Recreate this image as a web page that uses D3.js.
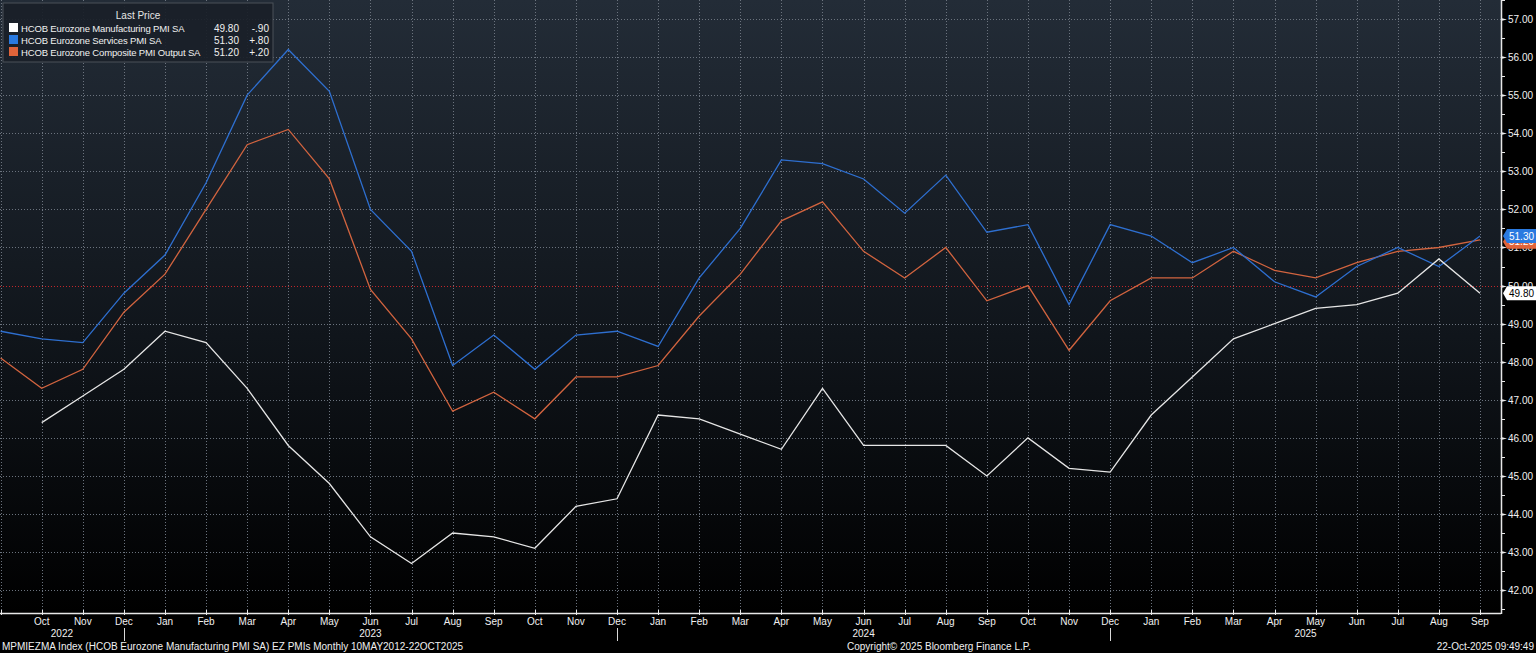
<!DOCTYPE html>
<html lang="en">
<head>
<meta charset="UTF-8">
<script src="https://cdnjs.cloudflare.com/ajax/libs/d3/7.8.5/d3.min.js"></script>
<style>
  html, body { margin: 0; padding: 0; background: #000; }
  svg { display: block; font-family: "Liberation Sans", "DejaVu Sans", sans-serif; }
</style>
</head>
<body>
<svg id="chart" width="1536" height="653"></svg>
<script>
// monthly observations, Sep 2022 .. Sep 2025
const months = [
  '2022-09', '2022-10', '2022-11', '2022-12',
  '2023-01', '2023-02', '2023-03', '2023-04', '2023-05', '2023-06',
  '2023-07', '2023-08', '2023-09', '2023-10', '2023-11', '2023-12',
  '2024-01', '2024-02', '2024-03', '2024-04', '2024-05', '2024-06',
  '2024-07', '2024-08', '2024-09', '2024-10', '2024-11', '2024-12',
  '2025-01', '2025-02', '2025-03', '2025-04', '2025-05', '2025-06',
  '2025-07', '2025-08', '2025-09'
];
// manufacturing has no print for the first month on this chart
const manufacturing = [
  null, 46.4, 47.1, 47.8,
  48.8, 48.5, 47.3, 45.8, 44.8, 43.4,
  42.7, 43.5, 43.4, 43.1, 44.2, 44.4,
  46.6, 46.5, 46.1, 45.7, 47.3, 45.8,
  45.8, 45.8, 45.0, 46.0, 45.2, 45.1,
  46.6, 47.6, 48.6, 49.0, 49.4, 49.5,
  49.8, 50.7, 49.8
];
const services = [
  48.8, 48.6, 48.5, 49.8,
  50.8, 52.7, 55.0, 56.2, 55.1, 52.0,
  50.9, 47.9, 48.7, 47.8, 48.7, 48.8,
  48.4, 50.2, 51.5, 53.3, 53.2, 52.8,
  51.9, 52.9, 51.4, 51.6, 49.5, 51.6,
  51.3, 50.6, 51.0, 50.1, 49.7, 50.5,
  51.0, 50.5, 51.3
];
const composite = [
  48.1, 47.3, 47.8, 49.3,
  50.3, 52.0, 53.7, 54.1, 52.8, 49.9,
  48.6, 46.7, 47.2, 46.5, 47.6, 47.6,
  47.9, 49.2, 50.3, 51.7, 52.2, 50.9,
  50.2, 51.0, 49.6, 50.0, 48.3, 49.6,
  50.2, 50.2, 50.9, 50.4, 50.2, 50.6,
  50.9, 51.0, 51.2
];

const seriesNames = [
  'HCOB Eurozone Manufacturing PMI SA',
  'HCOB Eurozone Services PMI SA',
  'HCOB Eurozone Composite PMI Output SA'
];
const lastPrices = ['49.80', '51.30', '51.20'];
const netChanges = ['-.90', '+.80', '+.20'];
const yTicks = d3.range(42, 58, 1);
const refLevel = 50;

const footLeft = 'MPMIEZMA Index (HCOB Eurozone Manufacturing PMI SA) EZ PMIs Monthly 10MAY2012-22OCT2025';
const footMid = 'Copyright\u00A9 2025 Bloomberg Finance L.P.';
const footRight = '22-Oct-2025 09:49:49';

const W = 1536, H = 653;
const plotRight = 1501, plotBottom = 613;
const FS = 10;

const svg = d3.select('#chart');

// background gradient
const defs = svg.append('defs');
const grad = defs.append('linearGradient')
  .attr('id', 'bg').attr('x1', 0).attr('y1', 0).attr('x2', 0).attr('y2', 1);
grad.append('stop').attr('offset', '0%').attr('stop-color', '#232c37');
grad.append('stop').attr('offset', '55%').attr('stop-color', '#10151b');
grad.append('stop').attr('offset', '100%').attr('stop-color', '#000000');

svg.append('rect').attr('width', W).attr('height', H).attr('fill', '#000');
svg.append('rect').attr('width', plotRight).attr('height', plotBottom).attr('fill', 'url(#bg)');

const x = d3.scalePoint().domain(months).range([0.6, 1480]);
const y = d3.scaleLinear().domain([41.4, 57.5]).range([plotBottom, 0]);
const parse = d3.timeParse('%Y-%m');
const fmtMon = d3.timeFormat('%b');

// grid
const grid = svg.append('g')
  .attr('stroke', '#6b737e').attr('stroke-width', 1).attr('stroke-dasharray', '1,2');
grid.selectAll('line.h')
  .data(yTicks.filter(d => d !== refLevel)).enter()
  .append('line')
  .attr('x1', 0).attr('x2', plotRight)
  .attr('y1', d => Math.round(y(d)) + 0.5).attr('y2', d => Math.round(y(d)) + 0.5);
grid.selectAll('line.v')
  .data(months).enter()
  .append('line')
  .attr('x1', d => Math.round(x(d)) + 0.5).attr('x2', d => Math.round(x(d)) + 0.5)
  .attr('y1', 0).attr('y2', plotBottom);

svg.append('line')
  .attr('x1', 0).attr('x2', plotRight)
  .attr('y1', Math.round(y(refLevel)) + 0.5).attr('y2', Math.round(y(refLevel)) + 0.5)
  .attr('stroke', '#c0262a').attr('stroke-width', 1).attr('stroke-dasharray', '1,2');

// lines
const line = d3.line()
  .defined(d => d.v != null)
  .x(d => x(d.m))
  .y(d => y(d.v));
const seriesData = [
  { values: composite, color: '#d2643f' },
  { values: services, color: '#2e6fd0' },
  { values: manufacturing, color: '#e6e6e6' }
];
svg.append('g').selectAll('path')
  .data(seriesData).enter()
  .append('path')
  .attr('fill', 'none')
  .attr('stroke', d => d.color)
  .attr('stroke-width', 1.3)
  .attr('d', d => line(d.values.map((v, i) => ({ m: months[i], v }))));

// x axis
svg.append('line')
  .attr('x1', 0).attr('x2', plotRight)
  .attr('y1', plotBottom + 0.5).attr('y2', plotBottom + 0.5)
  .attr('stroke', '#e8e8e8').attr('stroke-width', 1.5);
svg.append('g').selectAll('line')
  .data(months).enter()
  .append('line')
  .attr('x1', d => Math.round(x(d)) + 0.5).attr('x2', d => Math.round(x(d)) + 0.5)
  .attr('y1', plotBottom - 3).attr('y2', plotBottom + 2)
  .attr('stroke', '#e8e8e8');
svg.append('g').selectAll('text')
  .data(months.slice(1)).enter()
  .append('text')
  .attr('x', d => x(d)).attr('y', 625)
  .attr('text-anchor', 'middle')
  .attr('fill', '#f0f0f0').attr('font-size', FS)
  .text(d => fmtMon(parse(d)));

// year separators at December, year labels centred between them
const decs = months.filter(m => m.endsWith('-12'));
svg.append('g').selectAll('line')
  .data(decs).enter()
  .append('line')
  .attr('x1', d => Math.round(x(d)) + 0.5).attr('x2', d => Math.round(x(d)) + 0.5)
  .attr('y1', 628).attr('y2', 641)
  .attr('stroke', '#d8d8d8');
const bounds = [0, ...decs.map(d => x(d)), plotRight];
const years = ['2022', '2023', '2024', '2025'];
svg.append('g').selectAll('text')
  .data(years).enter()
  .append('text')
  .attr('x', (d, i) => (bounds[i] + bounds[i + 1]) / 2).attr('y', 637)
  .attr('text-anchor', 'middle')
  .attr('fill', '#f0f0f0').attr('font-size', FS)
  .text(d => d);

// right axis
svg.append('line')
  .attr('x1', plotRight + 0.5).attr('x2', plotRight + 0.5)
  .attr('y1', 0).attr('y2', plotBottom + 1)
  .attr('stroke', '#e8e8e8').attr('stroke-width', 1.5);
svg.append('g').selectAll('line')
  .data(d3.range(41.5, 57.6, 0.5).filter(v => v % 1 !== 0)).enter()
  .append('line')
  .attr('x1', plotRight).attr('x2', plotRight + 4)
  .attr('y1', d => Math.round(y(d)) + 0.5).attr('y2', d => Math.round(y(d)) + 0.5)
  .attr('stroke', '#e8e8e8');
const yAx = svg.append('g').selectAll('g')
  .data(yTicks).enter()
  .append('g')
  .attr('transform', d => `translate(${plotRight},${Math.round(y(d)) + 0.5})`);
yAx.append('path')
  .attr('d', 'M0,-1.5L6,0L0,1.5Z')
  .attr('fill', '#e8e8e8');
yAx.append('text')
  .attr('x', 7).attr('dy', '0.35em')
  .attr('fill', '#f0f0f0').attr('font-size', FS)
  .text(d => d3.format('.2f')(d));

// last value tags
const tags = [
  { v: +lastPrices[2], bg: '#e0643a', fg: '#ffffff', dy: 2 },
  { v: +lastPrices[1], bg: '#2a7ae0', fg: '#ffffff', dy: 0 },
  { v: +lastPrices[0], bg: '#ffffff', fg: '#000000', dy: 0 }
];
const tagG = svg.append('g').selectAll('g')
  .data(tags).enter()
  .append('g')
  .attr('transform', d => `translate(${plotRight + 2},${y(d.v) + d.dy})`);
tagG.append('path')
  .attr('d', 'M0,0L4,-7H33V7H4Z')
  .attr('fill', d => d.bg);
tagG.append('text')
  .attr('x', 6).attr('dy', '0.36em')
  .attr('fill', d => d.fg).attr('font-size', FS)
  .text(d => d3.format('.2f')(d.v));

// legend
const leg = svg.append('g').attr('transform', 'translate(3,3)');
leg.append('rect')
  .attr('width', 270).attr('height', 59)
  .attr('fill', '#1a2028').attr('fill-opacity', 0.92)
  .attr('stroke', '#4a5058');
leg.append('text')
  .attr('x', 135).attr('y', 16)
  .attr('text-anchor', 'middle')
  .attr('fill', '#e6e6e6').attr('font-size', FS)
  .text('Last Price');
const legColors = ['#ffffff', '#2a7ae0', '#e0643a'];
const rows = leg.selectAll('g.row')
  .data(seriesNames).enter()
  .append('g')
  .attr('transform', (d, i) => `translate(0,${20 + i * 12})`);
rows.append('rect')
  .attr('x', 6).attr('y', 0).attr('width', 9).attr('height', 9)
  .attr('fill', (d, i) => legColors[i]);
rows.append('text')
  .attr('x', 18).attr('y', 8.5)
  .attr('fill', '#f0f0f0').attr('font-size', 9.5)
  .attr('letter-spacing', -0.15)
  .text(d => d);
rows.append('text')
  .attr('x', 236).attr('y', 8.5).attr('text-anchor', 'end')
  .attr('fill', '#f0f0f0').attr('font-size', FS)
  .text((d, i) => lastPrices[i]);
rows.append('text')
  .attr('x', 266).attr('y', 8.5).attr('text-anchor', 'end')
  .attr('fill', '#f0f0f0').attr('font-size', FS)
  .text((d, i) => netChanges[i]);

// footer
svg.append('text').attr('x', 2).attr('y', 650)
  .attr('fill', '#f0f0f0').attr('font-size', FS).text(footLeft);
svg.append('text').attr('x', 847).attr('y', 650)
  .attr('fill', '#f0f0f0').attr('font-size', FS).text(footMid);
svg.append('text').attr('x', 1534).attr('y', 650).attr('text-anchor', 'end')
  .attr('fill', '#f0f0f0').attr('font-size', FS).text(footRight);
</script>
</body>
</html>
